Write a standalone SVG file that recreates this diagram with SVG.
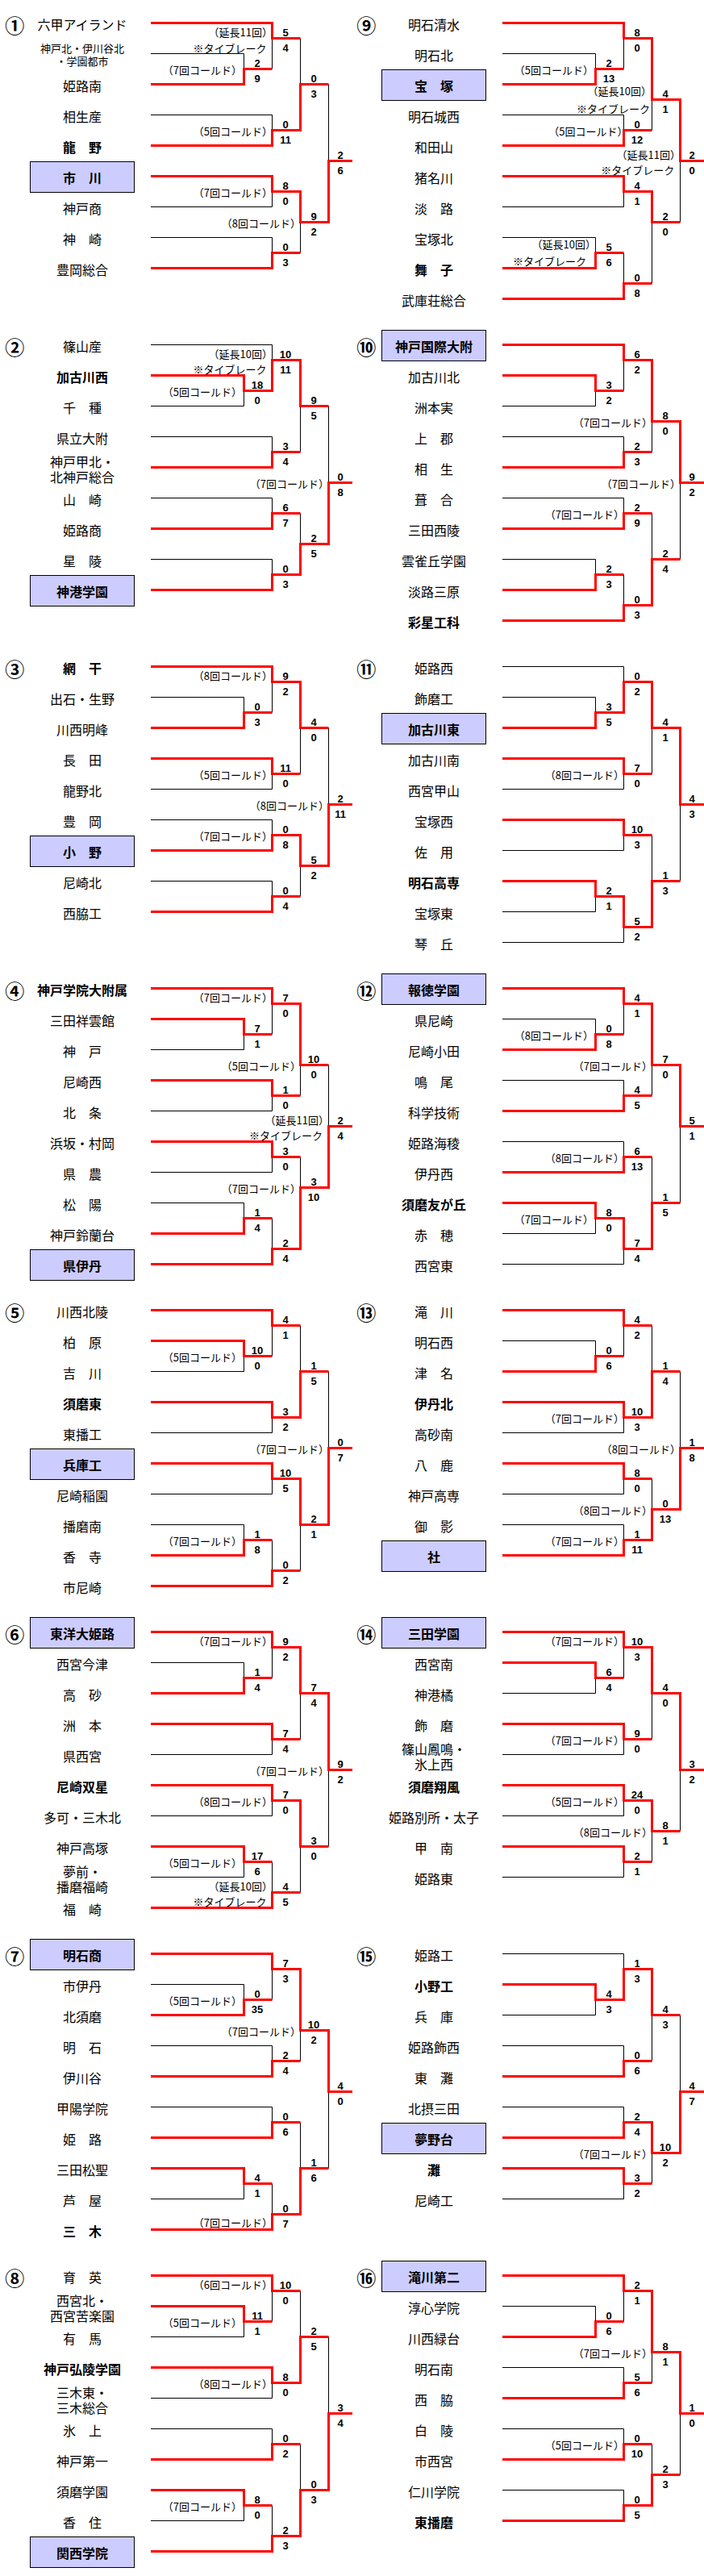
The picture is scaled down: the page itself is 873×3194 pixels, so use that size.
<svg xmlns="http://www.w3.org/2000/svg" width="873" height="3194" viewBox="0 0 873 3194">
<style>
.n{font-family:'Noto Sans CJK JP',sans-serif;font-size:16px;text-anchor:middle;dominant-baseline:central;fill:#000}
.b{font-weight:bold}
.m{font-size:13px}
.c{font-family:'Noto Sans CJK JP',sans-serif;font-size:24px;font-weight:bold;text-anchor:middle;dominant-baseline:central;fill:#000}
.s text{font-family:'Liberation Sans',Arial,sans-serif;font-size:13px;font-weight:bold;text-anchor:middle;fill:#000}
.a text{font-family:'Noto Sans CJK JP',sans-serif;font-size:13px;text-anchor:end;dominant-baseline:central;fill:#000}
.k{fill:none;stroke:#000;stroke-width:1}
.r{fill:none;stroke:#f00;stroke-width:3}
.bx{fill:#ccf;stroke:#000;stroke-width:1}
</style>
<rect width="873" height="3194" fill="#fff"/>

<g id="b1" transform="translate(0,0)">
<text class="c" x="18.3" y="30.2">①</text>
<g id="b1-n0"><text class="n" x="102" y="30">六甲アイランド</text></g>
<g id="b1-n2"><text class="n m" x="102" y="59">神戸北・伊川谷北</text><text class="n m" x="102" y="75">・学園都市</text></g>
<g id="b1-n4"><text class="n" x="102" y="106">姫路南</text></g>
<g id="b1-n6"><text class="n" x="102" y="144">相生産</text></g>
<g id="b1-n8"><text class="n b" x="102" y="182">龍　野</text></g>
<g id="b1-n10"><rect class="bx" x="37.5" y="200.5" width="129" height="38"/><text class="n b" x="102" y="220">市　川</text></g>
<g id="b1-n12"><text class="n" x="102" y="258">神戸商</text></g>
<g id="b1-n14"><text class="n" x="102" y="296">神　崎</text></g>
<g id="b1-n16"><text class="n" x="102" y="334">豊岡総合</text></g>
</g>
<g id="b2" transform="translate(0,399)">
<text class="c" x="18.3" y="30.2">②</text>
<g id="b2-n0"><text class="n" x="102" y="30">篠山産</text></g>
<g id="b2-n2"><text class="n b" x="102" y="68">加古川西</text></g>
<g id="b2-n4"><text class="n" x="102" y="106">千　種</text></g>
<g id="b2-n6"><text class="n" x="102" y="144">県立大附</text></g>
<g id="b2-n8"><text class="n" x="102" y="172.5">神戸甲北・</text><text class="n" x="102" y="191.5">北神戸総合</text></g>
<g id="b2-n10"><text class="n" x="102" y="220">山　崎</text></g>
<g id="b2-n12"><text class="n" x="102" y="258">姫路商</text></g>
<g id="b2-n14"><text class="n" x="102" y="296">星　陵</text></g>
<g id="b2-n16"><rect class="bx" x="37.5" y="314.5" width="129" height="38"/><text class="n b" x="102" y="334">神港学園</text></g>
</g>
<g id="b3" transform="translate(0,798)">
<text class="c" x="18.3" y="30.2">③</text>
<g id="b3-n0"><text class="n b" x="102" y="30">網　干</text></g>
<g id="b3-n2"><text class="n" x="102" y="68">出石・生野</text></g>
<g id="b3-n4"><text class="n" x="102" y="106">川西明峰</text></g>
<g id="b3-n6"><text class="n" x="102" y="144">長　田</text></g>
<g id="b3-n8"><text class="n" x="102" y="182">龍野北</text></g>
<g id="b3-n10"><text class="n" x="102" y="220">豊　岡</text></g>
<g id="b3-n12"><rect class="bx" x="37.5" y="238.5" width="129" height="38"/><text class="n b" x="102" y="258">小　野</text></g>
<g id="b3-n14"><text class="n" x="102" y="296">尼崎北</text></g>
<g id="b3-n16"><text class="n" x="102" y="334">西脇工</text></g>
</g>
<g id="b4" transform="translate(0,1197)">
<text class="c" x="18.3" y="30.2">④</text>
<g id="b4-n0"><text class="n b" x="102" y="30">神戸学院大附属</text></g>
<g id="b4-n2"><text class="n" x="102" y="68">三田祥雲館</text></g>
<g id="b4-n4"><text class="n" x="102" y="106">神　戸</text></g>
<g id="b4-n6"><text class="n" x="102" y="144">尼崎西</text></g>
<g id="b4-n8"><text class="n" x="102" y="182">北　条</text></g>
<g id="b4-n10"><text class="n" x="102" y="220">浜坂・村岡</text></g>
<g id="b4-n12"><text class="n" x="102" y="258">県　農</text></g>
<g id="b4-n14"><text class="n" x="102" y="296">松　陽</text></g>
<g id="b4-n16"><text class="n" x="102" y="334">神戸鈴蘭台</text></g>
<g id="b4-n18"><rect class="bx" x="37.5" y="352.5" width="129" height="38"/><text class="n b" x="102" y="372">県伊丹</text></g>
</g>
<g id="b5" transform="translate(0,1596)">
<text class="c" x="18.3" y="30.2">⑤</text>
<g id="b5-n0"><text class="n" x="102" y="30">川西北陵</text></g>
<g id="b5-n2"><text class="n" x="102" y="68">柏　原</text></g>
<g id="b5-n4"><text class="n" x="102" y="106">吉　川</text></g>
<g id="b5-n6"><text class="n b" x="102" y="144">須磨東</text></g>
<g id="b5-n8"><text class="n" x="102" y="182">東播工</text></g>
<g id="b5-n10"><rect class="bx" x="37.5" y="200.5" width="129" height="38"/><text class="n b" x="102" y="220">兵庫工</text></g>
<g id="b5-n12"><text class="n" x="102" y="258">尼崎稲園</text></g>
<g id="b5-n14"><text class="n" x="102" y="296">播磨南</text></g>
<g id="b5-n16"><text class="n" x="102" y="334">香　寺</text></g>
<g id="b5-n18"><text class="n" x="102" y="372">市尼崎</text></g>
</g>
<g id="b6" transform="translate(0,1995)">
<text class="c" x="18.3" y="30.2">⑥</text>
<g id="b6-n0"><rect class="bx" x="37.5" y="10.5" width="129" height="38"/><text class="n b" x="102" y="30">東洋大姫路</text></g>
<g id="b6-n2"><text class="n" x="102" y="68">西宮今津</text></g>
<g id="b6-n4"><text class="n" x="102" y="106">高　砂</text></g>
<g id="b6-n6"><text class="n" x="102" y="144">洲　本</text></g>
<g id="b6-n8"><text class="n" x="102" y="182">県西宮</text></g>
<g id="b6-n10"><text class="n b" x="102" y="220">尼崎双星</text></g>
<g id="b6-n12"><text class="n" x="102" y="258">多可・三木北</text></g>
<g id="b6-n14"><text class="n" x="102" y="296">神戸高塚</text></g>
<g id="b6-n16"><text class="n" x="102" y="324.5">夢前・</text><text class="n" x="102" y="343.5">播磨福崎</text></g>
<g id="b6-n18"><text class="n" x="102" y="372">福　崎</text></g>
</g>
<g id="b7" transform="translate(0,2394)">
<text class="c" x="18.3" y="30.2">⑦</text>
<g id="b7-n0"><rect class="bx" x="37.5" y="10.5" width="129" height="38"/><text class="n b" x="102" y="30">明石商</text></g>
<g id="b7-n2"><text class="n" x="102" y="68">市伊丹</text></g>
<g id="b7-n4"><text class="n" x="102" y="106">北須磨</text></g>
<g id="b7-n6"><text class="n" x="102" y="144">明　石</text></g>
<g id="b7-n8"><text class="n" x="102" y="182">伊川谷</text></g>
<g id="b7-n10"><text class="n" x="102" y="220">甲陽学院</text></g>
<g id="b7-n12"><text class="n" x="102" y="258">姫　路</text></g>
<g id="b7-n14"><text class="n" x="102" y="296">三田松聖</text></g>
<g id="b7-n16"><text class="n" x="102" y="334">芦　屋</text></g>
<g id="b7-n18"><text class="n b" x="102" y="372">三　木</text></g>
</g>
<g id="b8" transform="translate(0,2793)">
<text class="c" x="18.3" y="30.2">⑧</text>
<g id="b8-n0"><text class="n" x="102" y="30">育　英</text></g>
<g id="b8-n2"><text class="n" x="102" y="58.5">西宮北・</text><text class="n" x="102" y="77.5">西宮苦楽園</text></g>
<g id="b8-n4"><text class="n" x="102" y="106">有　馬</text></g>
<g id="b8-n6"><text class="n b" x="102" y="144">神戸弘陵学園</text></g>
<g id="b8-n8"><text class="n" x="102" y="172.5">三木東・</text><text class="n" x="102" y="191.5">三木総合</text></g>
<g id="b8-n10"><text class="n" x="102" y="220">氷　上</text></g>
<g id="b8-n12"><text class="n" x="102" y="258">神戸第一</text></g>
<g id="b8-n14"><text class="n" x="102" y="296">須磨学園</text></g>
<g id="b8-n16"><text class="n" x="102" y="334">香　住</text></g>
<g id="b8-n18"><rect class="bx" x="37.5" y="352.5" width="129" height="38"/><text class="n b" x="102" y="372">関西学院</text></g>
</g>
<g id="b9" transform="translate(436,0)">
<text class="c" x="18.3" y="30.2">⑨</text>
<g id="b9-n0"><text class="n" x="102" y="30">明石清水</text></g>
<g id="b9-n2"><text class="n" x="102" y="68">明石北</text></g>
<g id="b9-n4"><rect class="bx" x="37.5" y="86.5" width="129" height="38"/><text class="n b" x="102" y="106">宝　塚</text></g>
<g id="b9-n6"><text class="n" x="102" y="144">明石城西</text></g>
<g id="b9-n8"><text class="n" x="102" y="182">和田山</text></g>
<g id="b9-n10"><text class="n" x="102" y="220">猪名川</text></g>
<g id="b9-n12"><text class="n" x="102" y="258">淡　路</text></g>
<g id="b9-n14"><text class="n" x="102" y="296">宝塚北</text></g>
<g id="b9-n16"><text class="n b" x="102" y="334">舞　子</text></g>
<g id="b9-n18"><text class="n" x="102" y="372">武庫荘総合</text></g>
</g>
<g id="b10" transform="translate(436,399)">
<text class="c" x="18.3" y="30.2">⑩</text>
<g id="b10-n0"><rect class="bx" x="37.5" y="10.5" width="129" height="38"/><text class="n b" x="102" y="30">神戸国際大附</text></g>
<g id="b10-n2"><text class="n" x="102" y="68">加古川北</text></g>
<g id="b10-n4"><text class="n" x="102" y="106">洲本実</text></g>
<g id="b10-n6"><text class="n" x="102" y="144">上　郡</text></g>
<g id="b10-n8"><text class="n" x="102" y="182">相　生</text></g>
<g id="b10-n10"><text class="n" x="102" y="220">葺　合</text></g>
<g id="b10-n12"><text class="n" x="102" y="258">三田西陵</text></g>
<g id="b10-n14"><text class="n" x="102" y="296">雲雀丘学園</text></g>
<g id="b10-n16"><text class="n" x="102" y="334">淡路三原</text></g>
<g id="b10-n18"><text class="n b" x="102" y="372">彩星工科</text></g>
</g>
<g id="b11" transform="translate(436,798)">
<text class="c" x="18.3" y="30.2">⑪</text>
<g id="b11-n0"><text class="n" x="102" y="30">姫路西</text></g>
<g id="b11-n2"><text class="n" x="102" y="68">飾磨工</text></g>
<g id="b11-n4"><rect class="bx" x="37.5" y="86.5" width="129" height="38"/><text class="n b" x="102" y="106">加古川東</text></g>
<g id="b11-n6"><text class="n" x="102" y="144">加古川南</text></g>
<g id="b11-n8"><text class="n" x="102" y="182">西宮甲山</text></g>
<g id="b11-n10"><text class="n" x="102" y="220">宝塚西</text></g>
<g id="b11-n12"><text class="n" x="102" y="258">佐　用</text></g>
<g id="b11-n14"><text class="n b" x="102" y="296">明石高専</text></g>
<g id="b11-n16"><text class="n" x="102" y="334">宝塚東</text></g>
<g id="b11-n18"><text class="n" x="102" y="372">琴　丘</text></g>
</g>
<g id="b12" transform="translate(436,1197)">
<text class="c" x="18.3" y="30.2">⑫</text>
<g id="b12-n0"><rect class="bx" x="37.5" y="10.5" width="129" height="38"/><text class="n b" x="102" y="30">報徳学園</text></g>
<g id="b12-n2"><text class="n" x="102" y="68">県尼崎</text></g>
<g id="b12-n4"><text class="n" x="102" y="106">尼崎小田</text></g>
<g id="b12-n6"><text class="n" x="102" y="144">鳴　尾</text></g>
<g id="b12-n8"><text class="n" x="102" y="182">科学技術</text></g>
<g id="b12-n10"><text class="n" x="102" y="220">姫路海稜</text></g>
<g id="b12-n12"><text class="n" x="102" y="258">伊丹西</text></g>
<g id="b12-n14"><text class="n b" x="102" y="296">須磨友が丘</text></g>
<g id="b12-n16"><text class="n" x="102" y="334">赤　穂</text></g>
<g id="b12-n18"><text class="n" x="102" y="372">西宮東</text></g>
</g>
<g id="b13" transform="translate(436,1596)">
<text class="c" x="18.3" y="30.2">⑬</text>
<g id="b13-n0"><text class="n" x="102" y="30">滝　川</text></g>
<g id="b13-n2"><text class="n" x="102" y="68">明石西</text></g>
<g id="b13-n4"><text class="n" x="102" y="106">津　名</text></g>
<g id="b13-n6"><text class="n b" x="102" y="144">伊丹北</text></g>
<g id="b13-n8"><text class="n" x="102" y="182">高砂南</text></g>
<g id="b13-n10"><text class="n" x="102" y="220">八　鹿</text></g>
<g id="b13-n12"><text class="n" x="102" y="258">神戸高専</text></g>
<g id="b13-n14"><text class="n" x="102" y="296">御　影</text></g>
<g id="b13-n16"><rect class="bx" x="37.5" y="314.5" width="129" height="38"/><text class="n b" x="102" y="334">社</text></g>
</g>
<g id="b14" transform="translate(436,1995)">
<text class="c" x="18.3" y="30.2">⑭</text>
<g id="b14-n0"><rect class="bx" x="37.5" y="10.5" width="129" height="38"/><text class="n b" x="102" y="30">三田学園</text></g>
<g id="b14-n2"><text class="n" x="102" y="68">西宮南</text></g>
<g id="b14-n4"><text class="n" x="102" y="106">神港橘</text></g>
<g id="b14-n6"><text class="n" x="102" y="144">飾　磨</text></g>
<g id="b14-n8"><text class="n" x="102" y="172.5">篠山鳳鳴・</text><text class="n" x="102" y="191.5">氷上西</text></g>
<g id="b14-n10"><text class="n b" x="102" y="220">須磨翔風</text></g>
<g id="b14-n12"><text class="n" x="102" y="258">姫路別所・太子</text></g>
<g id="b14-n14"><text class="n" x="102" y="296">甲　南</text></g>
<g id="b14-n16"><text class="n" x="102" y="334">姫路東</text></g>
</g>
<g id="b15" transform="translate(436,2394)">
<text class="c" x="18.3" y="30.2">⑮</text>
<g id="b15-n0"><text class="n" x="102" y="30">姫路工</text></g>
<g id="b15-n2"><text class="n b" x="102" y="68">小野工</text></g>
<g id="b15-n4"><text class="n" x="102" y="106">兵　庫</text></g>
<g id="b15-n6"><text class="n" x="102" y="144">姫路飾西</text></g>
<g id="b15-n8"><text class="n" x="102" y="182">東　灘</text></g>
<g id="b15-n10"><text class="n" x="102" y="220">北摂三田</text></g>
<g id="b15-n12"><rect class="bx" x="37.5" y="238.5" width="129" height="38"/><text class="n b" x="102" y="258">夢野台</text></g>
<g id="b15-n14"><text class="n b" x="102" y="296">灘</text></g>
<g id="b15-n16"><text class="n" x="102" y="334">尼崎工</text></g>
</g>
<g id="b16" transform="translate(436,2793)">
<text class="c" x="18.3" y="30.2">⑯</text>
<g id="b16-n0"><rect class="bx" x="37.5" y="10.5" width="129" height="38"/><text class="n b" x="102" y="30">滝川第二</text></g>
<g id="b16-n2"><text class="n" x="102" y="68">淳心学院</text></g>
<g id="b16-n4"><text class="n" x="102" y="106">川西緑台</text></g>
<g id="b16-n6"><text class="n" x="102" y="144">明石南</text></g>
<g id="b16-n8"><text class="n" x="102" y="182">西　脇</text></g>
<g id="b16-n10"><text class="n" x="102" y="220">白　陵</text></g>
<g id="b16-n12"><text class="n" x="102" y="258">市西宮</text></g>
<g id="b16-n14"><text class="n" x="102" y="296">仁川学院</text></g>
<g id="b16-n16"><text class="n b" x="102" y="334">東播磨</text></g>
</g>

<g id="connectors">
<g transform="translate(0,0)"><path class="k" d="M187,66.5H302.5V85.5M337.5,85.5V47.5M372.5,47.5V104.5M187,142.5H337.5V161.5M407.5,104.5V199.5M187,256.5H337.5V237.5M187,294.5H337.5V313.5M372.5,313.5V275.5"/><path class="r" d="M187,28.5H337.5V47.5H372.5M187,104.5H302.5V85.5H337.5M187,180.5H337.5V161.5H372.5V104.5H407.5M187,218.5H337.5V237.5H372.5V275.5H407.5V199.5H437M187,332.5H337.5V313.5H372.5"/></g>
<g transform="translate(0,399)"><path class="k" d="M187,28.5H337.5V47.5M187,104.5H302.5V85.5M187,142.5H337.5V161.5M372.5,161.5V104.5M407.5,104.5V199.5M187,218.5H337.5V237.5M372.5,237.5V275.5M187,294.5H337.5V313.5"/><path class="r" d="M187,66.5H302.5V85.5H337.5V47.5H372.5V104.5H407.5M187,180.5H337.5V161.5H372.5M187,256.5H337.5V237.5H372.5M187,332.5H337.5V313.5H372.5V275.5H407.5V199.5H437"/></g>
<g transform="translate(0,798)"><path class="k" d="M187,66.5H302.5V85.5M337.5,85.5V47.5M372.5,161.5V104.5M187,180.5H337.5V161.5M407.5,104.5V199.5M187,218.5H337.5V237.5M187,294.5H337.5V313.5M372.5,313.5V275.5"/><path class="r" d="M187,28.5H337.5V47.5H372.5V104.5H407.5M187,104.5H302.5V85.5H337.5M187,142.5H337.5V161.5H372.5M187,256.5H337.5V237.5H372.5V275.5H407.5V199.5H437M187,332.5H337.5V313.5H372.5"/></g>
<g transform="translate(0,1197)"><path class="k" d="M337.5,85.5V47.5M187,104.5H302.5V85.5M372.5,161.5V123.5M187,180.5H337.5V161.5M407.5,123.5V199.5M372.5,237.5V275.5M187,256.5H337.5V237.5M187,294.5H302.5V313.5M337.5,313.5V351.5"/><path class="r" d="M187,28.5H337.5V47.5H372.5V123.5H407.5M187,66.5H302.5V85.5H337.5M187,142.5H337.5V161.5H372.5M187,218.5H337.5V237.5H372.5M187,332.5H302.5V313.5H337.5M187,370.5H337.5V351.5H372.5V275.5H407.5V199.5H437"/></g>
<g transform="translate(0,1596)"><path class="k" d="M372.5,47.5V104.5M337.5,85.5V47.5M187,104.5H302.5V85.5M187,180.5H337.5V161.5M407.5,104.5V199.5M187,256.5H337.5V237.5M187,294.5H302.5V313.5M337.5,313.5V351.5M372.5,351.5V294.5"/><path class="r" d="M187,28.5H337.5V47.5H372.5M187,66.5H302.5V85.5H337.5M187,142.5H337.5V161.5H372.5V104.5H407.5M187,218.5H337.5V237.5H372.5V294.5H407.5V199.5H437M187,332.5H302.5V313.5H337.5M187,370.5H337.5V351.5H372.5"/></g>
<g transform="translate(0,1995)"><path class="k" d="M187,66.5H302.5V85.5M337.5,85.5V47.5M372.5,161.5V104.5M187,180.5H337.5V161.5M407.5,294.5V199.5M187,256.5H337.5V237.5M337.5,313.5V351.5M187,332.5H302.5V313.5M372.5,351.5V294.5"/><path class="r" d="M187,28.5H337.5V47.5H372.5V104.5H407.5V199.5H437M187,104.5H302.5V85.5H337.5M187,142.5H337.5V161.5H372.5M187,218.5H337.5V237.5H372.5V294.5H407.5M187,294.5H302.5V313.5H337.5M187,370.5H337.5V351.5H372.5"/></g>
<g transform="translate(0,2394)"><path class="k" d="M187,66.5H302.5V85.5M337.5,85.5V47.5M187,142.5H337.5V161.5M372.5,161.5V123.5M187,218.5H337.5V237.5M372.5,237.5V294.5M337.5,313.5V351.5M187,332.5H302.5V313.5M407.5,294.5V199.5"/><path class="r" d="M187,28.5H337.5V47.5H372.5V123.5H407.5V199.5H437M187,104.5H302.5V85.5H337.5M187,180.5H337.5V161.5H372.5M187,256.5H337.5V237.5H372.5M187,294.5H302.5V313.5H337.5M187,370.5H337.5V351.5H372.5V294.5H407.5"/></g>
<g transform="translate(0,2793)"><path class="k" d="M372.5,47.5V104.5M337.5,85.5V47.5M187,104.5H302.5V85.5M187,180.5H337.5V161.5M407.5,104.5V199.5M187,218.5H337.5V237.5M372.5,237.5V294.5M337.5,313.5V351.5M187,332.5H302.5V313.5"/><path class="r" d="M187,28.5H337.5V47.5H372.5M187,66.5H302.5V85.5H337.5M187,142.5H337.5V161.5H372.5V104.5H407.5M187,256.5H337.5V237.5H372.5M187,294.5H302.5V313.5H337.5M187,370.5H337.5V351.5H372.5V294.5H407.5V199.5H437"/></g>
<g transform="translate(436,0)"><path class="k" d="M187,66.5H302.5V85.5M337.5,85.5V47.5M187,142.5H337.5V161.5M372.5,161.5V123.5M187,256.5H337.5V237.5M187,294.5H302.5V313.5M337.5,313.5V351.5M372.5,351.5V275.5M407.5,275.5V199.5"/><path class="r" d="M187,28.5H337.5V47.5H372.5V123.5H407.5V199.5H437M187,104.5H302.5V85.5H337.5M187,180.5H337.5V161.5H372.5M187,218.5H337.5V237.5H372.5V275.5H407.5M187,332.5H302.5V313.5H337.5M187,370.5H337.5V351.5H372.5"/></g>
<g transform="translate(436,399)"><path class="k" d="M337.5,85.5V47.5M187,104.5H302.5V85.5M187,142.5H337.5V161.5M372.5,161.5V123.5M187,218.5H337.5V237.5M372.5,237.5V294.5M187,294.5H302.5V313.5M337.5,313.5V351.5M407.5,294.5V199.5"/><path class="r" d="M187,28.5H337.5V47.5H372.5V123.5H407.5V199.5H437M187,66.5H302.5V85.5H337.5M187,180.5H337.5V161.5H372.5M187,256.5H337.5V237.5H372.5M187,332.5H302.5V313.5H337.5M187,370.5H337.5V351.5H372.5V294.5H407.5"/></g>
<g transform="translate(436,798)"><path class="k" d="M187,28.5H337.5V47.5M187,66.5H302.5V85.5M372.5,161.5V104.5M187,180.5H337.5V161.5M372.5,237.5V294.5M187,256.5H337.5V237.5M187,332.5H302.5V313.5M187,370.5H337.5V351.5M407.5,294.5V199.5"/><path class="r" d="M187,104.5H302.5V85.5H337.5V47.5H372.5V104.5H407.5V199.5H437M187,142.5H337.5V161.5H372.5M187,218.5H337.5V237.5H372.5M187,294.5H302.5V313.5H337.5V351.5H372.5V294.5H407.5"/></g>
<g transform="translate(436,1197)"><path class="k" d="M187,66.5H302.5V85.5M337.5,85.5V47.5M187,142.5H337.5V161.5M372.5,161.5V123.5M187,218.5H337.5V237.5M372.5,237.5V294.5M187,332.5H302.5V313.5M187,370.5H337.5V351.5M407.5,294.5V199.5"/><path class="r" d="M187,28.5H337.5V47.5H372.5V123.5H407.5V199.5H437M187,104.5H302.5V85.5H337.5M187,180.5H337.5V161.5H372.5M187,256.5H337.5V237.5H372.5M187,294.5H302.5V313.5H337.5V351.5H372.5V294.5H407.5"/></g>
<g transform="translate(436,1596)"><path class="k" d="M372.5,47.5V104.5M187,66.5H302.5V85.5M337.5,85.5V47.5M187,180.5H337.5V161.5M407.5,104.5V199.5M372.5,237.5V275.5M187,256.5H337.5V237.5M187,294.5H337.5V313.5"/><path class="r" d="M187,28.5H337.5V47.5H372.5M187,104.5H302.5V85.5H337.5M187,142.5H337.5V161.5H372.5V104.5H407.5M187,218.5H337.5V237.5H372.5M187,332.5H337.5V313.5H372.5V275.5H407.5V199.5H437"/></g>
<g transform="translate(436,1995)"><path class="k" d="M337.5,85.5V47.5M187,104.5H302.5V85.5M372.5,161.5V104.5M187,180.5H337.5V161.5M187,256.5H337.5V237.5M372.5,313.5V275.5M187,332.5H337.5V313.5M407.5,275.5V199.5"/><path class="r" d="M187,28.5H337.5V47.5H372.5V104.5H407.5V199.5H437M187,66.5H302.5V85.5H337.5M187,142.5H337.5V161.5H372.5M187,218.5H337.5V237.5H372.5V275.5H407.5M187,294.5H337.5V313.5H372.5"/></g>
<g transform="translate(436,2394)"><path class="k" d="M187,28.5H337.5V47.5M187,104.5H302.5V85.5M187,142.5H337.5V161.5M372.5,161.5V104.5M407.5,104.5V199.5M187,218.5H337.5V237.5M372.5,313.5V275.5M187,332.5H337.5V313.5"/><path class="r" d="M187,66.5H302.5V85.5H337.5V47.5H372.5V104.5H407.5M187,180.5H337.5V161.5H372.5M187,256.5H337.5V237.5H372.5V275.5H407.5V199.5H437M187,294.5H337.5V313.5H372.5"/></g>
<g transform="translate(436,2793)"><path class="k" d="M187,66.5H302.5V85.5M337.5,85.5V47.5M187,142.5H337.5V161.5M372.5,161.5V123.5M187,218.5H337.5V237.5M372.5,237.5V275.5M187,294.5H337.5V313.5M407.5,275.5V199.5"/><path class="r" d="M187,28.5H337.5V47.5H372.5V123.5H407.5V199.5H437M187,104.5H302.5V85.5H337.5M187,180.5H337.5V161.5H372.5M187,256.5H337.5V237.5H372.5M187,332.5H337.5V313.5H372.5V275.5H407.5"/></g>
</g>

<g id="scores" class="s">
<g transform="translate(0,0)"><text x="319" y="82.5">2</text><text x="319" y="101.5">9</text><text x="354" y="44.5">5</text><text x="354" y="63.5">4</text><text x="354" y="158.5">0</text><text x="354" y="177.5">11</text><text x="354" y="234.5">8</text><text x="354" y="253.5">0</text><text x="354" y="310.5">0</text><text x="354" y="329.5">3</text><text x="389" y="101.5">0</text><text x="389" y="120.5">3</text><text x="389" y="272.5">9</text><text x="389" y="291.5">2</text><text x="422" y="196.5">2</text><text x="422" y="215.5">6</text></g>
<g transform="translate(0,399)"><text x="319" y="82.5">18</text><text x="319" y="101.5">0</text><text x="354" y="44.5">10</text><text x="354" y="63.5">11</text><text x="354" y="158.5">3</text><text x="354" y="177.5">4</text><text x="354" y="234.5">6</text><text x="354" y="253.5">7</text><text x="354" y="310.5">0</text><text x="354" y="329.5">3</text><text x="389" y="101.5">9</text><text x="389" y="120.5">5</text><text x="389" y="272.5">2</text><text x="389" y="291.5">5</text><text x="422" y="196.5">0</text><text x="422" y="215.5">8</text></g>
<g transform="translate(0,798)"><text x="319" y="82.5">0</text><text x="319" y="101.5">3</text><text x="354" y="44.5">9</text><text x="354" y="63.5">2</text><text x="354" y="158.5">11</text><text x="354" y="177.5">0</text><text x="354" y="234.5">0</text><text x="354" y="253.5">8</text><text x="354" y="310.5">0</text><text x="354" y="329.5">4</text><text x="389" y="101.5">4</text><text x="389" y="120.5">0</text><text x="389" y="272.5">5</text><text x="389" y="291.5">2</text><text x="422" y="196.5">2</text><text x="422" y="215.5">11</text></g>
<g transform="translate(0,1197)"><text x="319" y="82.5">7</text><text x="319" y="101.5">1</text><text x="354" y="44.5">7</text><text x="354" y="63.5">0</text><text x="354" y="158.5">1</text><text x="354" y="177.5">0</text><text x="389" y="120.5">10</text><text x="389" y="139.5">0</text><text x="354" y="234.5">3</text><text x="354" y="253.5">0</text><text x="319" y="310.5">1</text><text x="319" y="329.5">4</text><text x="354" y="348.5">2</text><text x="354" y="367.5">4</text><text x="389" y="272.5">3</text><text x="389" y="291.5">10</text><text x="422" y="196.5">2</text><text x="422" y="215.5">4</text></g>
<g transform="translate(0,1596)"><text x="319" y="82.5">10</text><text x="319" y="101.5">0</text><text x="354" y="44.5">4</text><text x="354" y="63.5">1</text><text x="354" y="158.5">3</text><text x="354" y="177.5">2</text><text x="389" y="101.5">1</text><text x="389" y="120.5">5</text><text x="354" y="234.5">10</text><text x="354" y="253.5">5</text><text x="319" y="310.5">1</text><text x="319" y="329.5">8</text><text x="354" y="348.5">0</text><text x="354" y="367.5">2</text><text x="389" y="291.5">2</text><text x="389" y="310.5">1</text><text x="422" y="196.5">0</text><text x="422" y="215.5">7</text></g>
<g transform="translate(0,1995)"><text x="319" y="82.5">1</text><text x="319" y="101.5">4</text><text x="354" y="44.5">9</text><text x="354" y="63.5">2</text><text x="354" y="158.5">7</text><text x="354" y="177.5">4</text><text x="389" y="101.5">7</text><text x="389" y="120.5">4</text><text x="354" y="234.5">7</text><text x="354" y="253.5">0</text><text x="319" y="310.5">17</text><text x="319" y="329.5">6</text><text x="354" y="348.5">4</text><text x="354" y="367.5">5</text><text x="389" y="291.5">3</text><text x="389" y="310.5">0</text><text x="422" y="196.5">9</text><text x="422" y="215.5">2</text></g>
<g transform="translate(0,2394)"><text x="319" y="82.5">0</text><text x="319" y="101.5">35</text><text x="354" y="44.5">7</text><text x="354" y="63.5">3</text><text x="354" y="158.5">2</text><text x="354" y="177.5">4</text><text x="389" y="120.5">10</text><text x="389" y="139.5">2</text><text x="354" y="234.5">0</text><text x="354" y="253.5">6</text><text x="319" y="310.5">4</text><text x="319" y="329.5">1</text><text x="354" y="348.5">0</text><text x="354" y="367.5">7</text><text x="389" y="291.5">1</text><text x="389" y="310.5">6</text><text x="422" y="196.5">4</text><text x="422" y="215.5">0</text></g>
<g transform="translate(0,2793)"><text x="319" y="82.5">11</text><text x="319" y="101.5">1</text><text x="354" y="44.5">10</text><text x="354" y="63.5">0</text><text x="354" y="158.5">8</text><text x="354" y="177.5">0</text><text x="389" y="101.5">2</text><text x="389" y="120.5">5</text><text x="354" y="234.5">0</text><text x="354" y="253.5">2</text><text x="319" y="310.5">8</text><text x="319" y="329.5">0</text><text x="354" y="348.5">2</text><text x="354" y="367.5">3</text><text x="389" y="291.5">0</text><text x="389" y="310.5">3</text><text x="422" y="196.5">3</text><text x="422" y="215.5">4</text></g>
<g transform="translate(436,0)"><text x="319" y="82.5">2</text><text x="319" y="101.5">13</text><text x="354" y="44.5">8</text><text x="354" y="63.5">0</text><text x="354" y="158.5">0</text><text x="354" y="177.5">12</text><text x="389" y="120.5">4</text><text x="389" y="139.5">1</text><text x="354" y="234.5">4</text><text x="354" y="253.5">1</text><text x="319" y="310.5">5</text><text x="319" y="329.5">6</text><text x="354" y="348.5">0</text><text x="354" y="367.5">8</text><text x="389" y="272.5">2</text><text x="389" y="291.5">0</text><text x="422" y="196.5">2</text><text x="422" y="215.5">0</text></g>
<g transform="translate(436,399)"><text x="319" y="82.5">3</text><text x="319" y="101.5">2</text><text x="354" y="44.5">6</text><text x="354" y="63.5">2</text><text x="354" y="158.5">2</text><text x="354" y="177.5">3</text><text x="389" y="120.5">8</text><text x="389" y="139.5">0</text><text x="354" y="234.5">2</text><text x="354" y="253.5">9</text><text x="319" y="310.5">2</text><text x="319" y="329.5">3</text><text x="354" y="348.5">0</text><text x="354" y="367.5">3</text><text x="389" y="291.5">2</text><text x="389" y="310.5">4</text><text x="422" y="196.5">9</text><text x="422" y="215.5">2</text></g>
<g transform="translate(436,798)"><text x="319" y="82.5">3</text><text x="319" y="101.5">5</text><text x="354" y="44.5">0</text><text x="354" y="63.5">2</text><text x="354" y="158.5">7</text><text x="354" y="177.5">0</text><text x="389" y="101.5">4</text><text x="389" y="120.5">1</text><text x="354" y="234.5">10</text><text x="354" y="253.5">3</text><text x="319" y="310.5">2</text><text x="319" y="329.5">1</text><text x="354" y="348.5">5</text><text x="354" y="367.5">2</text><text x="389" y="291.5">1</text><text x="389" y="310.5">3</text><text x="422" y="196.5">4</text><text x="422" y="215.5">3</text></g>
<g transform="translate(436,1197)"><text x="319" y="82.5">0</text><text x="319" y="101.5">8</text><text x="354" y="44.5">4</text><text x="354" y="63.5">1</text><text x="354" y="158.5">4</text><text x="354" y="177.5">5</text><text x="389" y="120.5">7</text><text x="389" y="139.5">0</text><text x="354" y="234.5">6</text><text x="354" y="253.5">13</text><text x="319" y="310.5">8</text><text x="319" y="329.5">0</text><text x="354" y="348.5">7</text><text x="354" y="367.5">4</text><text x="389" y="291.5">1</text><text x="389" y="310.5">5</text><text x="422" y="196.5">5</text><text x="422" y="215.5">1</text></g>
<g transform="translate(436,1596)"><text x="319" y="82.5">0</text><text x="319" y="101.5">6</text><text x="354" y="44.5">4</text><text x="354" y="63.5">2</text><text x="354" y="158.5">10</text><text x="354" y="177.5">3</text><text x="389" y="101.5">1</text><text x="389" y="120.5">4</text><text x="354" y="234.5">8</text><text x="354" y="253.5">0</text><text x="354" y="310.5">1</text><text x="354" y="329.5">11</text><text x="389" y="272.5">0</text><text x="389" y="291.5">13</text><text x="422" y="196.5">1</text><text x="422" y="215.5">8</text></g>
<g transform="translate(436,1995)"><text x="319" y="82.5">6</text><text x="319" y="101.5">4</text><text x="354" y="44.5">10</text><text x="354" y="63.5">3</text><text x="354" y="158.5">9</text><text x="354" y="177.5">0</text><text x="389" y="101.5">4</text><text x="389" y="120.5">0</text><text x="354" y="234.5">24</text><text x="354" y="253.5">0</text><text x="354" y="310.5">2</text><text x="354" y="329.5">1</text><text x="389" y="272.5">8</text><text x="389" y="291.5">1</text><text x="422" y="196.5">3</text><text x="422" y="215.5">2</text></g>
<g transform="translate(436,2394)"><text x="319" y="82.5">4</text><text x="319" y="101.5">3</text><text x="354" y="44.5">1</text><text x="354" y="63.5">3</text><text x="354" y="158.5">0</text><text x="354" y="177.5">6</text><text x="389" y="101.5">4</text><text x="389" y="120.5">3</text><text x="354" y="234.5">2</text><text x="354" y="253.5">4</text><text x="354" y="310.5">3</text><text x="354" y="329.5">2</text><text x="389" y="272.5">10</text><text x="389" y="291.5">2</text><text x="422" y="196.5">4</text><text x="422" y="215.5">7</text></g>
<g transform="translate(436,2793)"><text x="319" y="82.5">0</text><text x="319" y="101.5">6</text><text x="354" y="44.5">2</text><text x="354" y="63.5">1</text><text x="354" y="158.5">5</text><text x="354" y="177.5">6</text><text x="389" y="120.5">8</text><text x="389" y="139.5">1</text><text x="354" y="234.5">0</text><text x="354" y="253.5">10</text><text x="354" y="310.5">0</text><text x="354" y="329.5">5</text><text x="389" y="272.5">2</text><text x="389" y="291.5">3</text><text x="422" y="196.5">1</text><text x="422" y="215.5">0</text></g>
</g>

<g id="notes" class="a">
<g transform="translate(0,0)"><text x="300" y="86">（7回コールド）</text><text x="338" y="39.6">（延長11回）</text><text x="330.5" y="59.2">※タイブレーク</text><text x="338" y="162">（5回コールド）</text><text x="338" y="238">（7回コールド）</text><text x="373" y="276">（8回コールド）</text></g>
<g transform="translate(0,399)"><text x="300" y="86">（5回コールド）</text><text x="338" y="39">（延長10回）</text><text x="330.5" y="58.3">※タイブレーク</text><text x="408" y="200">（7回コールド）</text></g>
<g transform="translate(0,798)"><text x="338" y="39">（8回コールド）</text><text x="338" y="162">（5回コールド）</text><text x="338" y="238">（7回コールド）</text><text x="408" y="200">（8回コールド）</text></g>
<g transform="translate(0,1197)"><text x="338" y="39.3">（7回コールド）</text><text x="373" y="124.5">（5回コールド）</text><text x="408" y="191.2">（延長11回）</text><text x="400" y="210.1">※タイブレーク</text><text x="373" y="276">（7回コールド）</text></g>
<g transform="translate(0,1596)"><text x="300" y="86">（5回コールド）</text><text x="300" y="314">（7回コールド）</text><text x="408" y="200">（7回コールド）</text></g>
<g transform="translate(0,1995)"><text x="338" y="39.2">（7回コールド）</text><text x="338" y="238">（8回コールド）</text><text x="300" y="314">（5回コールド）</text><text x="338" y="343">（延長10回）</text><text x="330.5" y="362">※タイブレーク</text><text x="408" y="200">（7回コールド）</text></g>
<g transform="translate(0,2394)"><text x="300" y="86">（5回コールド）</text><text x="373" y="124.5">（7回コールド）</text><text x="338" y="361.8">（7回コールド）</text></g>
<g transform="translate(0,2793)"><text x="338" y="39.2">（6回コールド）</text><text x="300" y="86">（5回コールド）</text><text x="338" y="162">（8回コールド）</text><text x="300" y="314">（7回コールド）</text></g>
<g transform="translate(436,0)"><text x="300" y="86">（5回コールド）</text><text x="342.5" y="162">（5回コールド）</text><text x="372" y="112">（延長10回）</text><text x="370" y="134.3">※タイブレーク</text><text x="408" y="191.1">（延長11回）</text><text x="400.3" y="210">※タイブレーク</text><text x="303" y="302">（延長10回）</text><text x="291" y="323.7">※タイブレーク</text></g>
<g transform="translate(436,399)"><text x="373" y="124.5">（7回コールド）</text><text x="338" y="238">（7回コールド）</text><text x="408" y="200">（7回コールド）</text></g>
<g transform="translate(436,798)"><text x="338" y="162">（8回コールド）</text></g>
<g transform="translate(436,1197)"><text x="300" y="86">（8回コールド）</text><text x="373" y="124.5">（7回コールド）</text><text x="338" y="238">（8回コールド）</text><text x="300" y="314">（7回コールド）</text></g>
<g transform="translate(436,1596)"><text x="338" y="162">（7回コールド）</text><text x="408" y="200">（8回コールド）</text><text x="373" y="276">（8回コールド）</text><text x="338" y="314">（7回コールド）</text></g>
<g transform="translate(436,1995)"><text x="338" y="39.2">（7回コールド）</text><text x="338" y="162">（7回コールド）</text><text x="338" y="238">（5回コールド）</text><text x="373" y="276">（8回コールド）</text></g>
<g transform="translate(436,2394)"><text x="373" y="276">（7回コールド）</text></g>
<g transform="translate(436,2793)"><text x="373" y="124.5">（7回コールド）</text><text x="338" y="238">（5回コールド）</text></g>
</g>
</svg>
